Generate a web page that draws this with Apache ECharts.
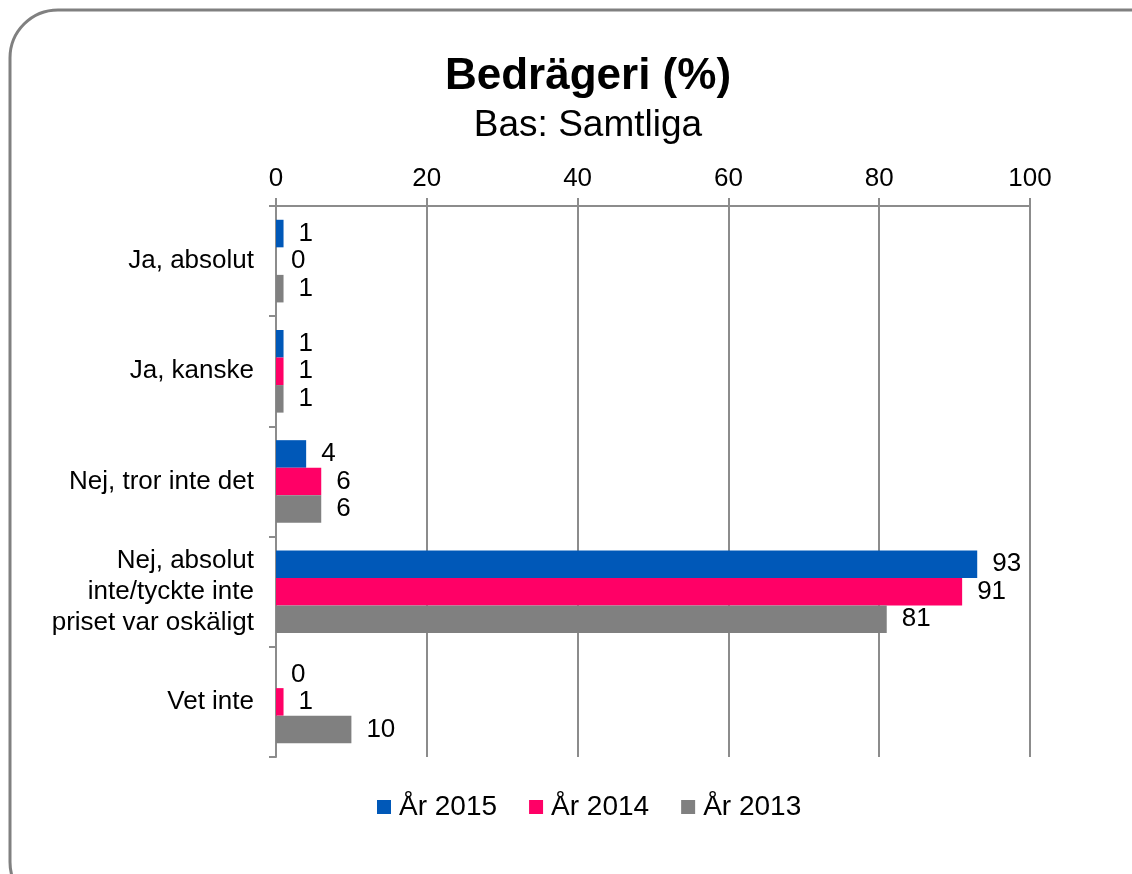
<!DOCTYPE html>
<html>
<head>
<meta charset="utf-8">
<script src="https://cdn.jsdelivr.net/npm/echarts@6/dist/echarts.min.js"></script>
<style>
  html, body { margin: 0; padding: 0; background: #fff; }
  #chart { width: 1132px; height: 874px; }
</style>
</head>
<body>
<div id="chart"></div>
<script>
// kategorier (uppifrån och ned)
var categories = [
  "Ja, absolut",
  "Ja, kanske",
  "Nej, tror inte det",
  "Nej, absolut\ninte/tyckte inte\npriset var oskäligt",
  "Vet inte"
];
var ar2015 = [1, 1, 4, 93, 0];
var ar2014 = [0, 1, 6, 91, 1];
var ar2013 = [1, 1, 6, 81, 10];
var xTicks = [0, 20, 40, 60, 80, 100];

var font = "Liberation Sans, Arial, sans-serif";

function bar(name, data, color) {
  return {
    name: name,
    type: "bar",
    data: data,
    barGap: "0%",
    barCategoryGap: "25%",
    itemStyle: { color: color },
    label: {
      show: true,
      position: "right",
      distance: 15,
      color: "#000",
      fontFamily: font,
      fontSize: 26
    }
  };
}

var chart = echarts.init(document.getElementById("chart"));
var option = {
  backgroundColor: "#fff",
  animation: false,
  graphic: [
    {
      type: "rect",
      // ram med rundade hörn
      shape: { x: 10, y: 10, width: 1170, height: 900, r: 48 },
      style: { fill: "none", stroke: "#808080", lineWidth: 3 },
      silent: true
    }
  ],
  title: {
    text: "Bedrägeri (%)",
    subtext: "Bas: Samtliga",
    left: 583,
    top: 50,
    textAlign: "center",
    itemGap: 8,
    textStyle: { fontFamily: font, fontSize: 44, fontWeight: "bold", color: "#000" },
    subtextStyle: { fontFamily: font, fontSize: 37, color: "#000" }
  },
  legend: {
    bottom: 48,
    left: 372,
    icon: "rect",
    itemWidth: 14,
    itemHeight: 14,
    itemGap: 32,
    textStyle: { fontFamily: font, fontSize: 28, color: "#000", padding: [0, 0, 0, 3] },
    data: ["År 2015", "År 2014", "År 2013"]
  },
  grid: { left: 276, right: 102, top: 206, bottom: 117, containLabel: false },
  xAxis: {
    type: "value",
    position: "top",
    min: xTicks[0],
    max: xTicks[xTicks.length - 1],
    interval: 20,
    axisLine: { show: true, lineStyle: { color: "#8c8c8c", width: 2 } },
    axisTick: { show: true, length: 8, lineStyle: { color: "#8c8c8c", width: 2 } },
    axisLabel: { fontFamily: font, fontSize: 26, color: "#000", margin: 14 },
    splitLine: { show: true, lineStyle: { color: "#8c8c8c", width: 2 } }
  },
  yAxis: {
    type: "category",
    inverse: true,
    data: categories,
    axisLine: { show: true, lineStyle: { color: "#8c8c8c", width: 2 } },
    axisTick: { show: true, length: 7, lineStyle: { color: "#8c8c8c", width: 2 } },
    axisLabel: {
      fontFamily: font,
      fontSize: 26,
      color: "#000",
      margin: 22,
      lineHeight: 31,
      align: "right"
    }
  },
  series: [
    bar("År 2015", ar2015, "#0058b8"),
    bar("År 2014", ar2014, "#ff0066"),
    bar("År 2013", ar2013, "#808080")
  ]
};
chart.setOption(option);
</script>
</body>
</html>
